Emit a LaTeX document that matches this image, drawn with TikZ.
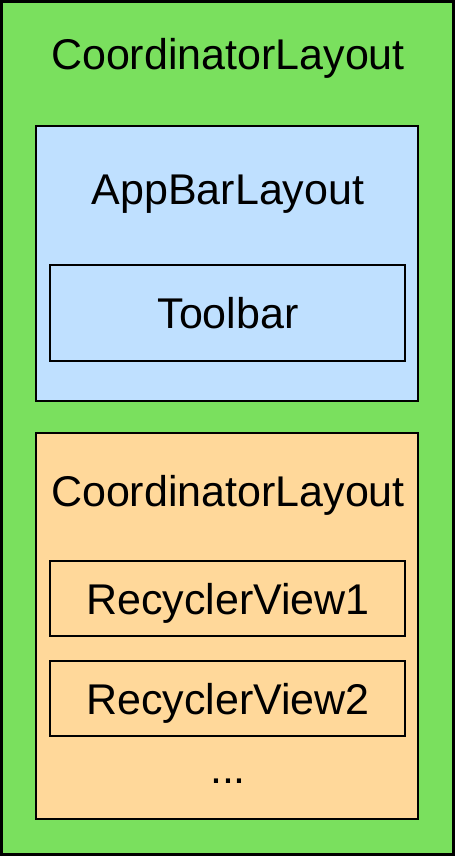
\documentclass[tikz,border=0pt]{standalone}
\usepackage{fontspec}
\setmainfont{Liberation Sans}
\definecolor{cgreen}{RGB}{122,224,94}
\definecolor{cblue}{RGB}{191,224,255}
\definecolor{corange}{RGB}{255,216,154}
\begin{document}
\begin{tikzpicture}[x=1pt,y=-1pt,
  box/.style={draw=black,line width=2.6pt},
  lbl/.style={font=\fontsize{43}{50}\selectfont,inner sep=0pt,anchor=base}]
\useasboundingbox (0,0) rectangle (455,856);
\filldraw[box,fill=cgreen,line width=3pt] (1.5,1.5) rectangle (453.5,854.5);
\filldraw[box,fill=cblue] (36,126) rectangle (418,401);
\filldraw[box,fill=cblue] (50,265) rectangle (405,361);
\filldraw[box,fill=corange] (36,433) rectangle (418,819);
\filldraw[box,fill=corange] (50,561) rectangle (405,636);
\filldraw[box,fill=corange] (50,661) rectangle (405,736);
\node[lbl] (outer) at (228,70) {CoordinatorLayout};
\node[lbl] (appbar) at (228,204) {AppBarLayout};
\node[lbl] (toolbar) at (228,328) {Toolbar};
\node[lbl] (inner) at (228,506) {CoordinatorLayout};
\node[lbl] (rv1) at (228,614) {RecyclerView1};
\node[lbl] (rv2) at (228,714) {RecyclerView2};
\node[lbl] (dots) at (228,783) {...};
\end{tikzpicture}
\end{document}
